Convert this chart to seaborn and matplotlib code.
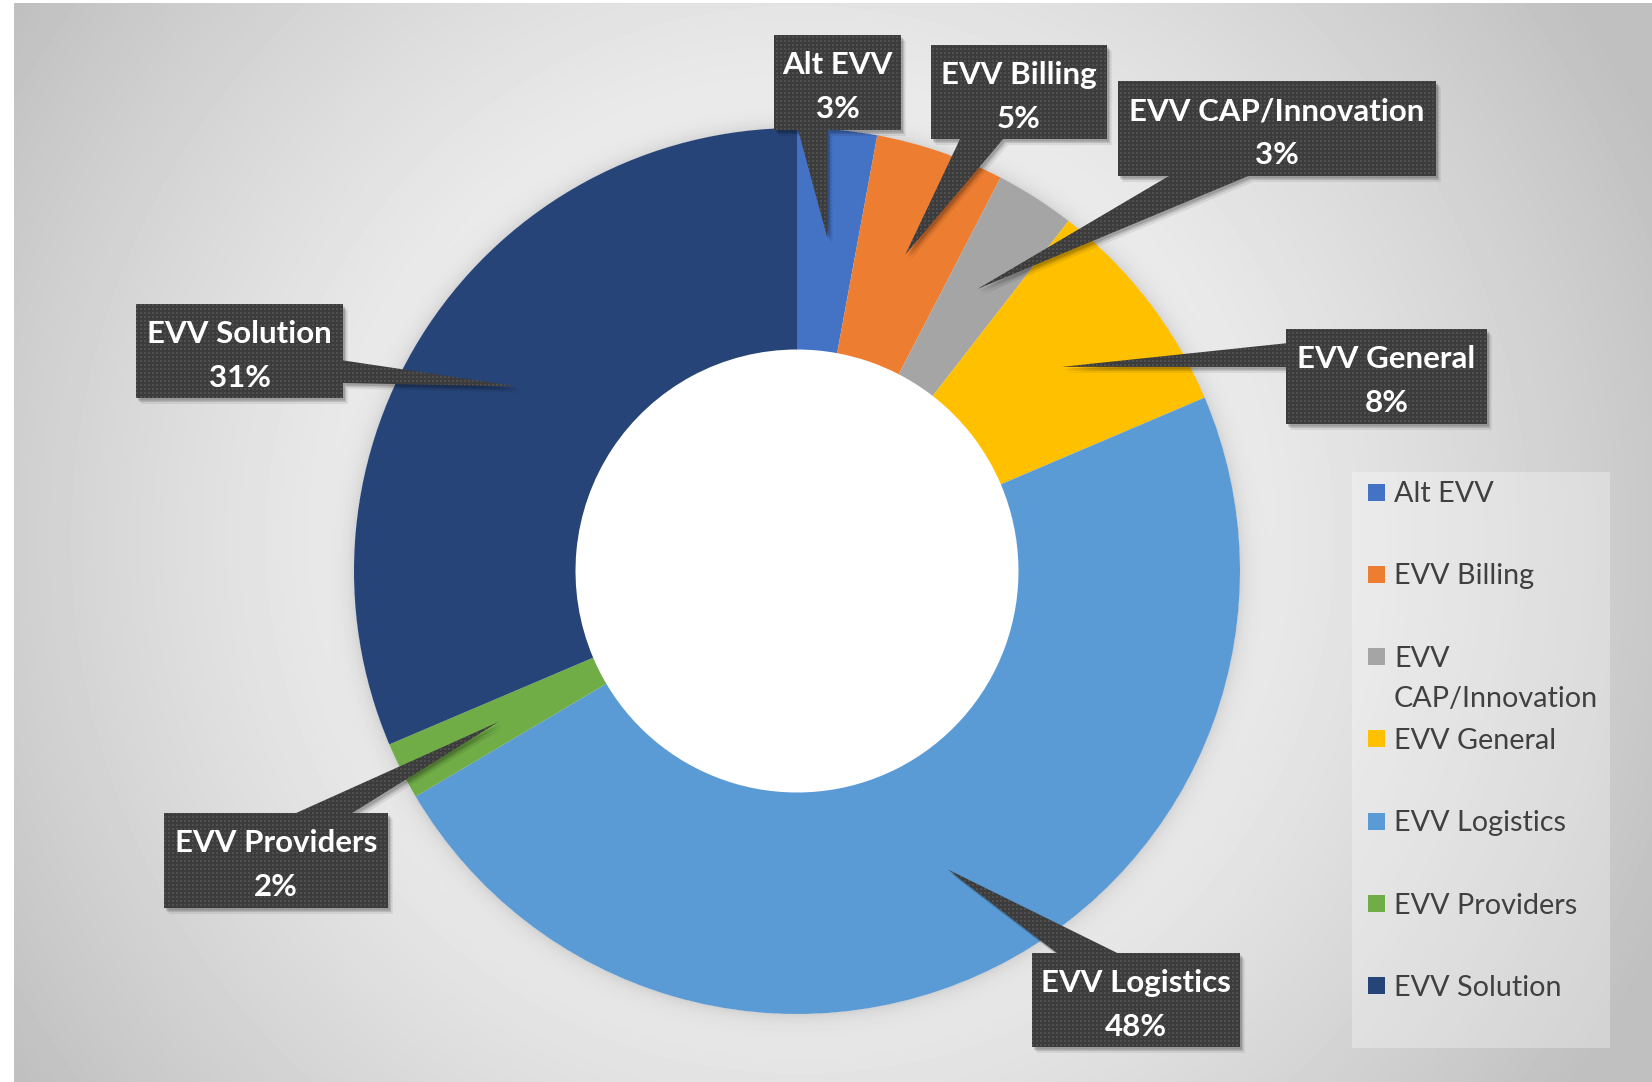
import numpy as np
import matplotlib
matplotlib.use("Agg")
import matplotlib.pyplot as plt
from matplotlib.patches import Polygon, Rectangle, Circle
import seaborn as sns

categories = ["Alt EVV", "EVV Billing", "EVV CAP/Innovation", "EVV General",
              "EVV Logistics", "EVV Providers", "EVV Solution"]
shares = [2.9, 4.7, 2.9, 8.1, 47.9, 2.1, 31.4]
legend_labels = ["Alt EVV", "EVV Billing", "EVV\nCAP/Innovation", "EVV General",
                 "EVV Logistics", "EVV Providers", "EVV Solution"]
slice_colors = ["#4472C4", "#ED7D31", "#A5A5A5", "#FFC000",
                "#5B9BD5", "#70AD47", "#264478"]

# layout in pixels (y down)
W, H = 1652, 1082
CX, CY, R = 797, 571, 443
# callout box: left, top, width, height, side of pointer, base start/end on that side
callouts = [
    (774, 35, 127, 95, "bottom", 0.19, 0.42),
    (931, 45, 176, 94, "bottom", 0.165, 0.41),
    (1118, 81, 318, 95, "bottom", 0.16, 0.41),
    (1286, 329, 201, 95, "left", 0.15, 0.40),
    (1032, 953, 208, 94, "top", 0.12, 0.41),
    (164, 813, 224, 95, "top", 0.59, 0.84),
    (136, 304, 207, 94, "right", 0.60, 0.84),
]

sns.set_theme(style="white")
plt.rcParams["font.family"] = ["Lato", "DejaVu Sans"]
palette = sns.color_palette(slice_colors)

fig = plt.figure(figsize=(W / 100, H / 100), dpi=100)

# background: radial grey gradient with a soft glow around the ring
bg = fig.add_axes([0, 0, 1, 1], zorder=0)
yy, xx = np.mgrid[0:H, 0:W] + 0.5
d = np.hypot(xx - 800, yy - 540)
v = 1.0 - 0.25 * np.clip(d / 950, 0, 1) ** 1.5
dc = np.hypot(xx - CX, yy - CY)
v = v - 0.09 * np.exp(-np.clip(dc - R, 0, None) / 9) * (dc > R)
v[:, :14] = 1.0
v[:3, :] = 1.0
bg.imshow(v, cmap="gray", vmin=0, vmax=1, extent=(0, W, H, 0), interpolation="bilinear")
bg.set_xlim(0, W)
bg.set_ylim(H, 0)
bg.axis("off")

# donut
ax = fig.add_axes([(CX - R) / W, (H - CY - R) / H, 2 * R / W, 2 * R / H], zorder=1)
ax.patch.set_alpha(0)
wedges, _ = ax.pie(shares, colors=palette, startangle=90, counterclock=False, radius=1,
                   wedgeprops=dict(width=0.5, linewidth=0))
ax.add_patch(Circle((0, 0), 0.5, color="white", zorder=0))
ax.set_xlim(-1, 1)
ax.set_ylim(-1, 1)
ax.set_aspect("equal")
ax.apply_aspect()
ax.axis("off")

# overlay for callouts and legend
ov = fig.add_axes([0, 0, 1, 1], zorder=2)
ov.patch.set_alpha(0)
ov.set_xlim(0, W)
ov.set_ylim(H, 0)
ov.axis("off")


def callout_shape(box, tip):
    x, y, w, h, side, f0, f1 = box
    tl, tr, br, bl = (x, y), (x + w, y), (x + w, y + h), (x, y + h)
    if side == "top":
        pts = [tl, (x + f0 * w, y), tip, (x + f1 * w, y), tr, br, bl]
    elif side == "right":
        pts = [tl, tr, (x + w, y + f0 * h), tip, (x + w, y + f1 * h), br, bl]
    elif side == "bottom":
        pts = [tl, tr, br, (x + f1 * w, y + h), tip, (x + f0 * w, y + h), bl]
    else:
        pts = [tl, tr, br, bl, (x, y + f1 * h), tip, (x, y + f0 * h)]
    return np.array(pts)


for wedge, name, share, box in zip(wedges, categories, shares, callouts):
    mid = np.deg2rad((wedge.theta1 + wedge.theta2) / 2)
    px, py = ax.transData.transform((0.755 * np.cos(mid), 0.755 * np.sin(mid)))
    tip = (px, H - py)
    pts = callout_shape(box, tip)

    for off, a in [(6, 0.07), (4, 0.12), (2.5, 0.15)]:
        ov.add_patch(Polygon(pts + [off * 0.8, off], closed=True, facecolor="black",
                             edgecolor="none", alpha=a, zorder=3))

    x0, y0 = np.floor(pts.min(axis=0)).astype(int)
    x1, y1 = np.ceil(pts.max(axis=0)).astype(int)
    ty, tx = np.mgrid[y0:y1, x0:x1]
    tex = np.full(tx.shape, 0.235)
    tex[((tx % 4) < 2) & ((ty % 4) < 2)] = 0.31
    clip = Polygon(pts, closed=True, transform=ov.transData)
    im = ov.imshow(tex, cmap="gray", vmin=0, vmax=1, extent=(x0, x1, y1, y0),
                   interpolation="nearest", zorder=4)
    im.set_clip_path(clip)

    x, y, w, h = box[:4]
    ov.text(x + w / 2, y + 39, name, ha="center", va="baseline", color="white",
            fontsize=22.5, fontweight="bold", zorder=5)
    ov.text(x + w / 2, y + 83, f"{round(share)}%", ha="center", va="baseline",
            color="white", fontsize=22.5, fontweight="bold", zorder=5)

# legend
ov.add_patch(Rectangle((1352, 472), 258, 576, facecolor="white", alpha=0.3,
                       edgecolor="none", zorder=3))
for i, (lab, col) in enumerate(zip(legend_labels, palette)):
    yc = 492 + 82.3 * i
    ov.add_patch(Rectangle((1368, yc - 8.5), 17, 17, facecolor=col, edgecolor="none", zorder=4))
    for j, line in enumerate(lab.split("\n")):
        ov.text(1394, yc + 10 + 40 * j, line, ha="left", va="baseline", color="#404040",
                fontsize=20.7, zorder=4)

fig.savefig("out.png", dpi=100)
